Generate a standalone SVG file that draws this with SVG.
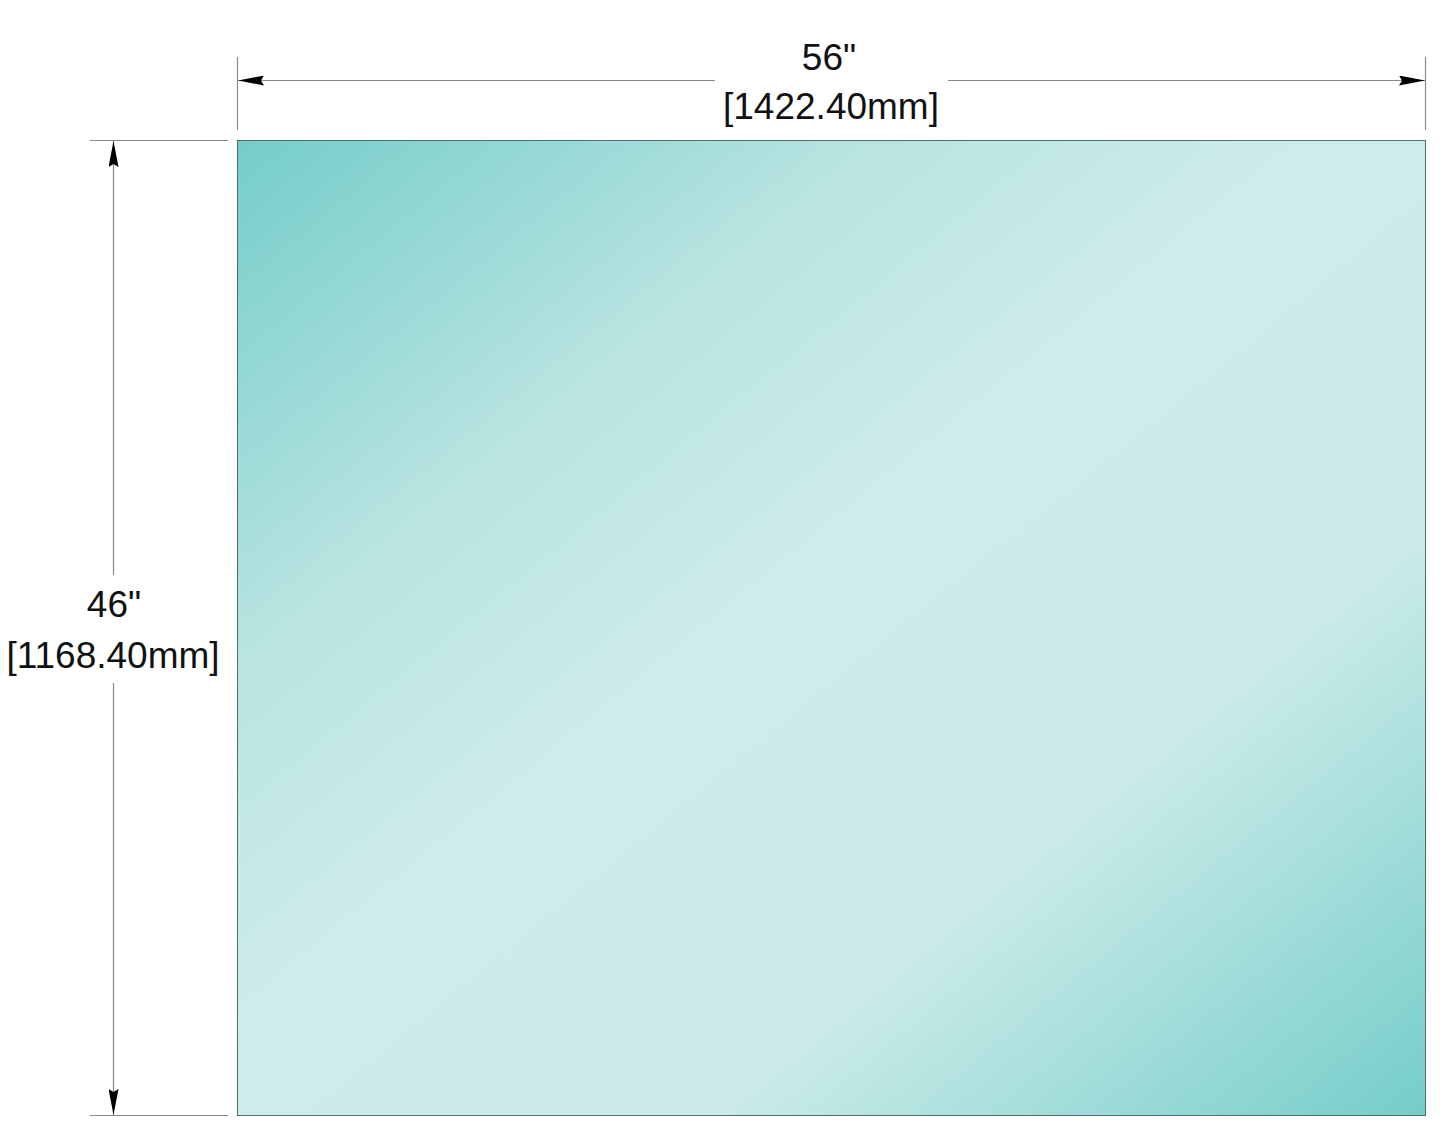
<svg xmlns="http://www.w3.org/2000/svg" width="1445" height="1134" viewBox="0 0 1445 1134">
<style>
.dim{stroke:#8a8a8a;stroke-width:1.2;fill:none}
.lbl{font-family:"Liberation Sans",Arial,sans-serif;font-size:37px;fill:#111;text-anchor:middle}
</style>
<defs>
<linearGradient id="glass" x1="0" y1="0" x2="1" y2="1">
<stop offset="0" stop-color="#74cdca"/>
<stop offset="0.27" stop-color="#b9e4e1"/>
<stop offset="0.45" stop-color="#cdecea"/>
<stop offset="0.7" stop-color="#cbebe8"/>
<stop offset="1" stop-color="#74cdca"/>
</linearGradient>
<marker id="arr" viewBox="0 0 26 10" refX="26" refY="5" markerWidth="26" markerHeight="10" markerUnits="userSpaceOnUse" orient="auto-start-reverse">
<path d="M0,0 L26,5 L0,10 L3,5 Z" fill="#000"/>
</marker>
</defs>
<g id="panel">
<rect x="237.5" y="140.5" width="1188" height="975" fill="url(#glass)" stroke="#4f6f6e" stroke-width="1"/>
</g>
<g id="connectors">
<line class="dim" x1="237.5" y1="57" x2="237.5" y2="130"/>
<line class="dim" x1="1425.5" y1="57" x2="1425.5" y2="130"/>
<line class="dim" x1="90" y1="140.5" x2="228" y2="140.5"/>
<line class="dim" x1="90" y1="1115.5" x2="228" y2="1115.5"/>
<line class="dim" x1="715" y1="80.5" x2="238" y2="80.5" marker-end="url(#arr)"/>
<line class="dim" x1="948" y1="80.5" x2="1425" y2="80.5" marker-end="url(#arr)"/>
<line class="dim" x1="113.5" y1="575" x2="113.5" y2="141" marker-end="url(#arr)"/>
<line class="dim" x1="113.5" y1="683" x2="113.5" y2="1115" marker-end="url(#arr)"/>
</g>
<g id="labels">
<text class="lbl" x="829" y="70">56"</text>
<text class="lbl" x="831" y="119">[1422.40mm]</text>
<text class="lbl" x="114" y="617">46"</text>
<text class="lbl" x="113" y="668">[1168.40mm]</text>
</g>
</svg>
